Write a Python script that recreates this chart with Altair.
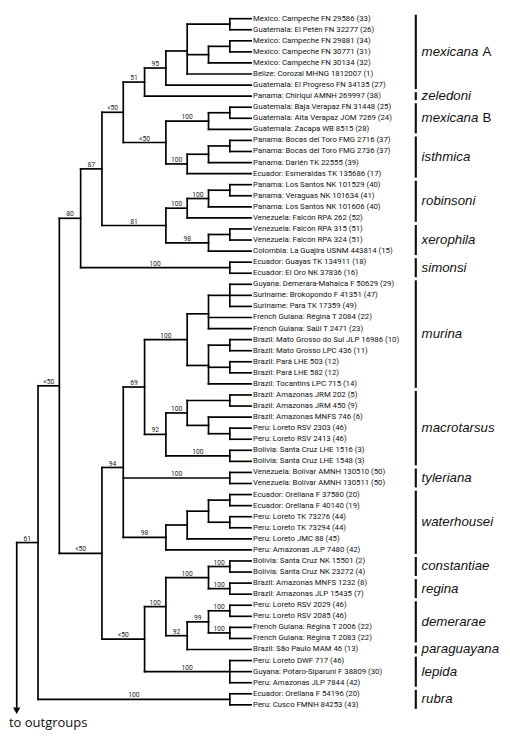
import altair as alt
import pandas as pd

# ---------------- data ----------------
tip_labels = [
    "Mexico: Campeche FN 29586 (33)",
    "Guatemala: El Petén FN 32277 (26)",
    "Mexico: Campeche FN 29881 (34)",
    "Mexico: Campeche FN 30771 (31)",
    "Mexico: Campeche FN 30134 (32)",
    "Belize: Corozal MHNG 1812007 (1)",
    "Guatemala: El Progreso FN 34135 (27)",
    "Panama: Chiriquí AMNH 269997 (38)",
    "Guatemala: Baja Verapaz FN 31448 (25)",
    "Guatemala: Alta Verapaz JOM 7269 (24)",
    "Guatemala: Zacapa WB 8515 (28)",
    "Panama: Bocas del Toro FMG 2716 (37)",
    "Panama: Bocas del Toro FMG 2736 (37)",
    "Panama: Darién TK 22555 (39)",
    "Ecuador: Esmeraldas TK 135686 (17)",
    "Panama: Los Santos NK 101529 (40)",
    "Panama: Veraguas NK 101634 (41)",
    "Panama: Los Santos NK 101606 (40)",
    "Venezuela: Falcón RPA 262 (52)",
    "Venezuela: Falcón RPA 315 (51)",
    "Venezuela: Falcón RPA 324 (51)",
    "Colombia: La Guajira USNM 443814 (15)",
    "Ecuador: Guayas TK 134911 (18)",
    "Ecuador: El Oro NK 37836 (16)",
    "Guyana: Demerara-Mahaica F 50629 (29)",
    "Suriname: Brokopondo F 41351 (47)",
    "Suriname: Para TK 17359 (49)",
    "French Guiana: Régina T 2084 (22)",
    "French Guiana: Saül T 2471 (23)",
    "Brazil: Mato Grosso do Sul JLP 16986 (10)",
    "Brazil: Mato Grosso LPC 436 (11)",
    "Brazil: Pará LHE 503 (12)",
    "Brazil: Pará LHE 582 (12)",
    "Brazil: Tocantins LPC 715 (14)",
    "Brazil: Amazonas JRM 202 (5)",
    "Brazil: Amazonas JRM 450 (9)",
    "Brazil: Amazonas MNFS 746 (6)",
    "Peru: Loreto RSV 2303 (46)",
    "Peru: Loreto RSV 2413 (46)",
    "Bolivia: Santa Cruz LHE 1516 (3)",
    "Bolivia: Santa Cruz LHE 1548 (3)",
    "Venezuela: Bolívar AMNH 130510 (50)",
    "Venezuela: Bolívar AMNH 130511 (50)",
    "Ecuador: Orellana F 37580 (20)",
    "Ecuador: Orellana F 40140 (19)",
    "Peru: Loreto TK 73276 (44)",
    "Peru: Loreto TK 73294 (44)",
    "Peru: Loreto JMC 88 (45)",
    "Peru: Amazonas JLP 7480 (42)",
    "Bolivia: Santa Cruz NK 15501 (2)",
    "Bolivia: Santa Cruz NK 23272 (4)",
    "Brazil: Amazonas MNFS 1232 (8)",
    "Brazil: Amazonas JLP 15435 (7)",
    "Peru: Loreto RSV 2029 (46)",
    "Peru: Loreto RSV 2085 (46)",
    "French Guiana: Régina T 2006 (22)",
    "French Guiana: Régina T 2083 (22)",
    "Brazil: São Paulo MAM 46 (13)",
    "Peru: Loreto DWF 717 (46)",
    "Guyana: Potaro-Siparuni F 38809 (30)",
    "Peru: Amazonas JLP 7844 (42)",
    "Ecuador: Orellana F 54196 (20)",
    "Peru: Cusco FMNH 84253 (43)",
]

# topology (Newick, tips = index into tip_labels, support values after ')')
mexicana_a = "(((0,1),((2,3),4),5),6)95"
clade_n3 = f"({mexicana_a},7)51"
mexicana_b = "((8,9),10)100"
isthmica = "(((11,12),13),14)100"
clade_n4 = f"({clade_n3},({mexicana_b},{isthmica})<50)<50"
robinsoni = "(((15,16),17)100,18)100"
xerophila = "((19,20),21)98"
clade_n6 = f"({clade_n4},({robinsoni},{xerophila})81)87"
simonsi = "(22,23)100"
clade_n8 = f"({clade_n6},{simonsi})80"
murina = "(((24,25,26),27,28),((29,30),(31,32),33))100"
macrotarsus = "(((34,35),(36,(37,38)))100,(39,40)100)92"
tyleriana = "(41,42)100"
waterhousei = "((((43,44),(45,46)),47),48)98"
clade_n11 = f"(({murina},{macrotarsus})69,{tyleriana},{waterhousei})94"
const_regina = "((49,50)100,(51,52)100)100"
demerarae = "(((53,54)100,(55,56)100)99,57)92"
lepida = "(58,59,60)100"
clade_n18 = f"(({const_regina},{demerarae})100,{lepida})<50"
rubra = "(61,62)100"
newick = f"(({clade_n8},({clade_n11},{clade_n18})<50)<50,{rubra})61"

clade_names = ["mexicana A", "zeledoni", "mexicana B", "isthmica", "robinsoni",
               "xerophila", "simonsi", "murina", "macrotarsus", "tyleriana",
               "waterhousei", "constantiae", "regina", "demerarae",
               "paraguayana", "lepida", "rubra"]
clade_first = [0, 7, 8, 11, 15, 19, 22, 24, 34, 41, 43, 49, 51, 53, 57, 58, 61]
clade_last = [6, 7, 10, 14, 18, 21, 23, 33, 40, 42, 48, 50, 52, 56, 57, 60, 62]

# ---------------- layout params (reference pixel space) ----------------
X_TIP, X_STEP = 251, 22      # tip x and per-level step
Y_TIP0, Y_STEP = 5, 11.37    # first tip y and row spacing
W, H = 502, 729
REF_W, REF_H = 510, 737


def parse(s):
    pos = 0

    def node():
        nonlocal pos
        if s[pos] == "(":
            pos += 1
            kids = [node()]
            while s[pos] == ",":
                pos += 1
                kids.append(node())
            pos += 1  # ')'
            start = pos
            while pos < len(s) and s[pos] not in ",)":
                pos += 1
            return {"kids": kids, "label": s[start:pos]}
        start = pos
        while pos < len(s) and s[pos] not in ",)":
            pos += 1
        return {"tip": int(s[start:pos])}

    return node()


def layout(n):
    if "tip" in n:
        n["h"], n["y"] = 0, float(n["tip"])
    else:
        for k in n["kids"]:
            layout(k)
        n["h"] = 1 + max(k["h"] for k in n["kids"])
        n["y"] = sum(k["y"] for k in n["kids"]) / len(n["kids"])


def xr(h):
    return X_TIP - X_STEP * h


def yr(i):
    return Y_TIP0 + Y_STEP * i


tree = parse(newick)
layout(tree)

segs, sups = [], []


def walk(n):
    if "kids" not in n:
        return
    ys = [k["y"] for k in n["kids"]]
    segs.append(dict(x=xr(n["h"]), x2=xr(n["h"]), y=yr(min(ys)), y2=yr(max(ys))))
    for k in n["kids"]:
        segs.append(dict(x=xr(n["h"]), x2=xr(k["h"]), y=yr(k["y"]), y2=yr(k["y"])))
        if k.get("label"):
            sups.append(dict(x=(xr(n["h"]) + xr(k["h"])) / 2, y=yr(k["y"]), t=k["label"]))
        walk(k)


walk(tree)
stem_h = tree["h"] + 1
segs.append(dict(x=xr(stem_h), x2=xr(tree["h"]), y=yr(tree["y"]), y2=yr(tree["y"])))
sups.append(dict(x=(xr(stem_h) + xr(tree["h"])) / 2, y=yr(tree["y"]), t=tree["label"]))
# arrow to outgroups
arrow_end = 712
segs.append(dict(x=xr(stem_h), x2=xr(stem_h), y=yr(tree["y"]), y2=arrow_end))

seg_df = pd.DataFrame(segs)
sup_df = pd.DataFrame(sups)
tip_df = pd.DataFrame(dict(x=[xr(0)] * len(tip_labels),
                           y=[yr(i) for i in range(len(tip_labels))],
                           t=tip_labels))
BAR_X, LAB_X, HALF = 421, 427, 0.36
clade_df = pd.DataFrame(dict(
    y=[yr(a - HALF) for a in clade_first],
    y2=[yr(b + HALF) for b in clade_last],
    yc=[(yr(a) + yr(b)) / 2 for a, b in zip(clade_first, clade_last)],
    it=[c.split(" ")[0] for c in clade_names],
    suf=[" ".join(c.split(" ")[1:]) for c in clade_names],
    x=[BAR_X] * len(clade_names),
    lx=[LAB_X] * len(clade_names),
))

xs = alt.Scale(domain=[0, REF_W], range=[0, W], nice=False, zero=False)
ys = alt.Scale(domain=[0, REF_H], range=[0, H], nice=False, zero=False)


def X(f):
    return alt.X(f, type="quantitative", scale=xs, axis=None)


def Y(f):
    return alt.Y(f, type="quantitative", scale=ys, axis=None)


lines = alt.Chart(seg_df).mark_rule(color="#000", strokeWidth=1.7, strokeCap="square").encode(
    x=X("x"), x2="x2", y=Y("y"), y2="y2")

support = alt.Chart(sup_df).mark_text(
    font="Roboto", fontSize=6.8, color="#222", baseline="alphabetic", dy=-2
).encode(x=X("x"), y=Y("y"), text="t:N")

tips = alt.Chart(tip_df).mark_text(
    font="Roboto", fontSize=7.9, color="#111", align="left", baseline="middle", dx=2
).encode(x=X("x"), y=Y("y"), text="t:N")

bars = alt.Chart(clade_df).mark_rule(color="#111", strokeWidth=2.2).encode(
    x=X("x"), y=Y("y"), y2="y2")

clade_it = alt.Chart(clade_df).mark_text(
    font="Liberation Sans", fontSize=13.5, fontStyle="italic", color="#111",
    align="left", baseline="middle"
).encode(x=X("lx"), y=Y("yc"), text="it:N")

clade_suf = alt.Chart(clade_df[clade_df["suf"] != ""]).mark_text(
    font="Liberation Sans", fontSize=13.5, color="#111", align="left", baseline="middle", dx=62
).encode(x=X("lx"), y=Y("yc"), text="suf:N")

arrow_df = pd.DataFrame(dict(x=[xr(stem_h)], y=[716]))
arrow = alt.Chart(arrow_df).mark_point(
    shape="triangle-down", filled=True, size=55, color="#000", opacity=1
).encode(x=X("x"), y=Y("y"))

out_df = pd.DataFrame(dict(x=[1], y=[733], t=["to outgroups"]))
outtext = alt.Chart(out_df).mark_text(
    font="Open Sans", fontSize=13.2, color="#111", align="left", baseline="alphabetic"
).encode(x=X("x"), y=Y("y"), text="t:N")

chart = alt.layer(lines, support, tips, bars, clade_it, clade_suf, arrow, outtext).properties(
    width=W, height=H, padding=0, autosize=alt.AutoSizeParams(type="none")
).configure_view(stroke=None)

chart.save("out.html", embed_options={"renderer": "svg", "actions": False})
